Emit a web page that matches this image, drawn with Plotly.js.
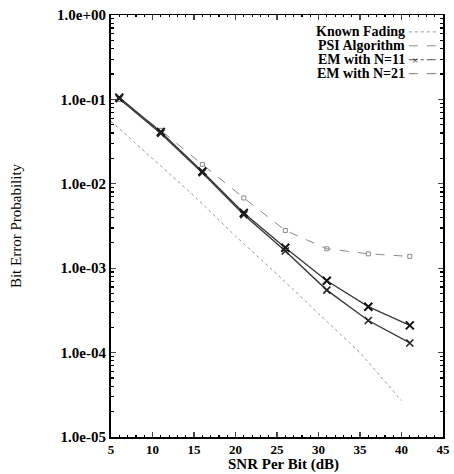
<!DOCTYPE html>
<html><head><meta charset="utf-8">
<script src="https://cdn.plot.ly/plotly-3.0.1.min.js"></script>
<style>html,body{margin:0;padding:0;background:#fff}#chart{width:454px;height:474px}</style>
</head><body><div id="chart"></div>
<script>
// SNR grid (dB)
const snrKnown = [5, 10, 15, 20, 25, 30, 35, 40];
const snrEst = [6, 11, 16, 21, 26, 31, 36, 41];
// Bit error probabilities
const berKnown = [0.055, 0.0197, 0.0072, 0.0024, 8.5e-4, 2.9e-4, 1.0e-4, 2.7e-5];
const berPSI = [0.100, 0.043, 0.017, 0.0068, 0.0028, 0.0017, 0.00148, 0.00138];
const berEM11 = [0.105, 0.041, 0.0140, 0.0045, 0.00175, 7.1e-4, 3.5e-4, 2.1e-4];
const berEM21 = [0.102, 0.0395, 0.0135, 0.0043, 0.0016, 5.5e-4, 2.4e-4, 1.3e-4];
const seriesNames = ['Known Fading', 'PSI Algorithm', 'EM with N=11', 'EM with N=21'];
const yTickVals = [1e-5, 1e-4, 1e-3, 1e-2, 1e-1, 1];
const yTickText = ['1.0e-05', '1.0e-04', '1.0e-03', '1.0e-02', '1.0e-01', '1.0e+00'];
const xTickVals = [5, 10, 15, 20, 25, 30, 35, 40, 45];
const xTitle = 'SNR Per Bit (dB)';
const yTitle = 'Bit Error Probability';

const serif = 'Liberation Serif, Times New Roman, serif';

const traces = [
  {x: snrKnown, y: berKnown, name: seriesNames[0], mode: 'lines',
   line: {color: '#9a9a9a', width: 1, dash: 'dot'}},
  {x: snrEst, y: berPSI, name: seriesNames[1], mode: 'lines+markers',
   line: {color: '#8a8a8a', width: 1, dash: 'dash'},
   marker: {symbol: 'square-open', size: 4, color: '#8a8a8a', line: {width: 1}}},
  {x: snrEst, y: berEM11, name: seriesNames[2], mode: 'lines+markers',
   line: {color: '#3a3a3a', width: 1.4},
   marker: {symbol: 'x-thin', size: 8, color: '#111', line: {width: 2, color: '#111'}}},
  {x: snrEst, y: berEM21, name: seriesNames[3], mode: 'lines+markers',
   line: {color: '#3a3a3a', width: 1.4},
   marker: {symbol: 'x-thin', size: 7, color: '#222', line: {width: 1.6, color: '#222'}}}
];

const legY = [0.960, 0.927, 0.894, 0.861];
const legDash = ['dot', 'dash', 'dashdot', 'dash'];
const legColor = ['#9a9a9a', '#8a8a8a', '#555', '#777'];
const annotations = seriesNames.map((n, i) => ({
  xref: 'paper', yref: 'paper', x: 0.893, y: legY[i], xanchor: 'right', yanchor: 'middle',
  text: n, showarrow: false, font: {family: serif, size: 14, color: '#000', weight: 'bold'}
}));
annotations.push({xref:'paper', yref:'paper', x:0.915, y:legY[2], xanchor:'center', yanchor:'middle',
  text:'×', showarrow:false, font:{family: serif, size: 11, color:'#333'}});
annotations.push({xref:'paper', yref:'paper', x:0.52, y:-0.0877, xanchor:'center', yanchor:'bottom',
  text: xTitle, showarrow:false, borderpad: 0,
  font:{family: serif, size: 15, color:'#000', weight:'bold'}});
const shapes = seriesNames.map((n, i) => ({
  type: 'line', xref: 'paper', yref: 'paper', x0: 0.897, x1: 0.985, y0: legY[i], y1: legY[i],
  line: {color: legColor[i], width: 1, dash: legDash[i]}
}));

const layout = {
  width: 454, height: 474,
  margin: {l: 111, r: 11, t: 15, b: 37},
  paper_bgcolor: '#fff', plot_bgcolor: '#fff',
  showlegend: false,
  font: {family: serif, color: '#000'},
  xaxis: {
    range: [5, 45], tickvals: xTickVals, ticks: 'inside', ticklen: 5, tickwidth: 1.2,
    showline: true, linecolor: '#000', linewidth: 1.5, mirror: 'allticks', showgrid: false, zeroline: false,
    tickfont: {family: serif, size: 13, weight: 'bold'},
    minor: {ticks: 'inside', ticklen: 2, dtick: 1, tickcolor: '#000'}
  },
  yaxis: {
    type: 'log', range: [-5, 0], tickvals: yTickVals, ticktext: yTickText,
    ticks: 'inside', ticklen: 5, tickwidth: 1.2,
    showline: true, linecolor: '#000', linewidth: 2, mirror: 'allticks', showgrid: false, zeroline: false,
    tickfont: {family: serif, size: 15, weight: 'bold'},
    minor: {ticks: 'inside', ticklen: 3, dtick: 'D1', tickcolor: '#000'},
    title: {text: yTitle, standoff: 32, font: {family: serif, size: 15}}
  },
  annotations: annotations,
  shapes: shapes
};

Plotly.newPlot('chart', traces, layout, {displayModeBar: false, staticPlot: true});
</script></body></html>
